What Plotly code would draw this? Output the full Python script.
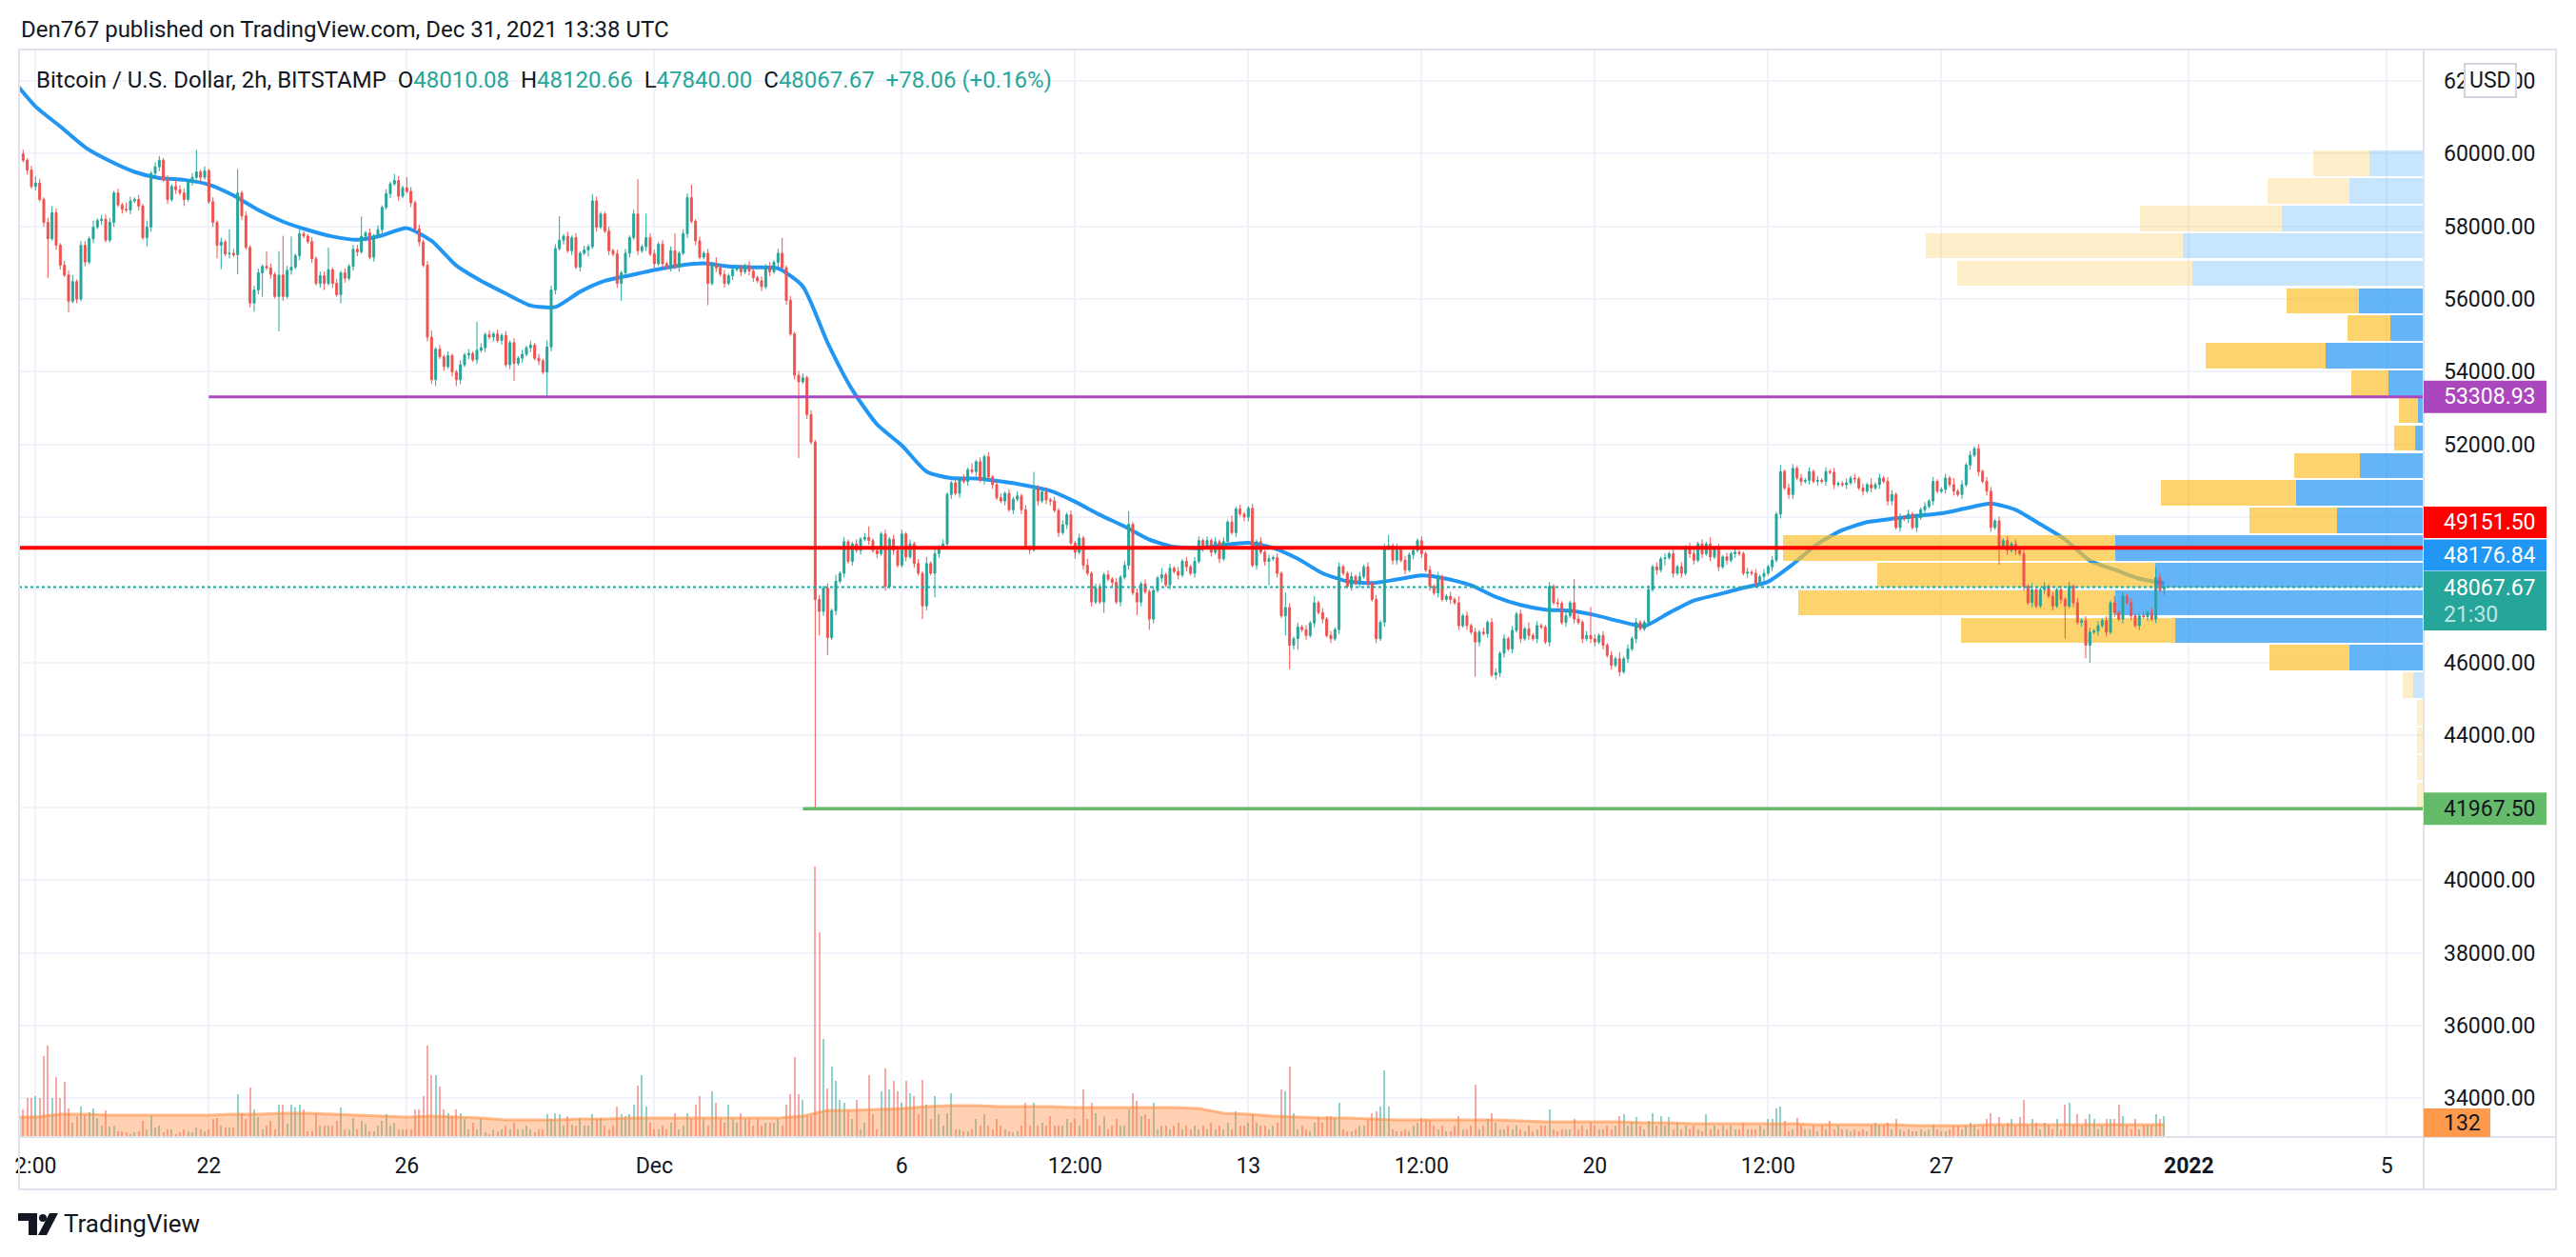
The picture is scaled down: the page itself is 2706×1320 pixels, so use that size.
import numpy as np
import pandas as pd
import plotly.graph_objects as go

# ---------------------------------------------------------------- data
FIRST_BAR = "2021-11-18 06:00"          # 2h bars
first_open = 59990.0
# closes per UTC day (2h bars)
closes = [
    [59820, 59550, 59100, 59190, 58740, 58110, 57660, 58380, 57480],                     # Nov 18
    [56930, 56660, 55940, 56480, 56000, 57480, 57020, 57660, 57980, 58160, 58200, 57620],
    [58110, 58920, 58590, 58470, 58450, 58700, 58740, 58560, 57690, 57980, 59460, 59640],
    [59820, 59280, 58740, 59100, 59010, 58920, 58740, 59240, 59350, 59500, 59350, 59530],
    [58680, 58110, 57480, 57570, 57240, 57260, 57220, 58920, 58290, 57420, 55890, 56250],
    [56720, 56900, 56860, 56680, 56070, 56660, 56070, 56790, 56880, 57190, 57800, 57730],
    [57580, 57110, 56430, 56640, 56430, 56810, 56430, 56120, 56720, 56570, 56900, 57370],
    [57300, 57730, 57820, 57150, 57730, 57910, 58520, 58900, 59170, 59260, 58830, 59060],
    [58960, 58650, 57930, 57570, 56930, 54950, 53780, 54620, 54410, 54140, 54440, 53990],
    [53780, 54190, 54460, 54500, 54330, 54590, 54660, 55020, 54950, 55040, 54860, 55000],
    [54190, 54800, 54230, 54370, 54480, 54660, 54730, 54370, 54300, 53990, 54680, 56250],
    [57390, 57620, 57730, 57330, 57690, 56880, 57260, 57350, 57440, 58700, 57980, 58340],
    [57870, 57330, 57240, 56430, 56720, 57260, 57690, 58340, 57330, 57440, 57690, 57240],
    [56970, 57510, 56970, 56880, 57330, 56880, 57260, 57800, 58790, 58140, 57600, 57150],  # Dec 1
    [57260, 56430, 56970, 56860, 56680, 56430, 56640, 56810, 56830, 56750, 56920, 56770],
    [56590, 56500, 56340, 56900, 56750, 57010, 57260, 56860, 55960, 55040, 53900, 53720],
    [53830, 52820, 52060, 47730, 47400, 48050, 46680, 47420, 48230, 48450, 49320, 48780],
    [49260, 49080, 49390, 49440, 49350, 49080, 48990, 49530, 48090, 49390, 49080, 48670],
    [49530, 48900, 49260, 48720, 48450, 47550, 48720, 48450, 48990, 49170, 49260, 50620],
    [50940, 50650, 51050, 50980, 51300, 51250, 51520, 51010, 51660, 51100, 50890, 50530],
    [50440, 50650, 50200, 50490, 50580, 50200, 49170, 49100, 50760, 50440, 50690, 50470],
    [50440, 50180, 49570, 49790, 50060, 49280, 49030, 49420, 48670, 48450, 47660, 48050],
    [47660, 48410, 48290, 48200, 47660, 48340, 48670, 49800, 47910, 47660, 48160, 47940],
    [47190, 47980, 48320, 48410, 48130, 48590, 48500, 48400, 48780, 48630, 48450, 48780],
    [49350, 49170, 49350, 49030, 49320, 48850, 49320, 49860, 49570, 50220, 50080, 50000],
    [50240, 48670, 49320, 49030, 48780, 48850, 48880, 48450, 47280, 47510, 46470, 46650],
    [46970, 46900, 46740, 47080, 47640, 47370, 47190, 46740, 46650, 46900, 48630, 48450],
    [48090, 48360, 48180, 48360, 48630, 48180, 47730, 46650, 47100, 49140, 49210, 48810],
    [49140, 48810, 48540, 48960, 49080, 49350, 48990, 48540, 48090, 47910, 48360, 47730],
    [47820, 47730, 47640, 47010, 47280, 47010, 46830, 46560, 46830, 46790, 47100, 45650],
    [45710, 46250, 46650, 46370, 46880, 47330, 46650, 46920, 46740, 46650, 47010, 46970],
    [46560, 48090, 47640, 47620, 47100, 47280, 47640, 47190, 47100, 46650, 46740, 46650],
    [46560, 46740, 46470, 46190, 45920, 46100, 45740, 46100, 46370, 46650, 47100, 46920],
    [47100, 48000, 48630, 48540, 48850, 48880, 48990, 48450, 48630, 48450, 49170, 48990],
    [48810, 49260, 48990, 49260, 48900, 49140, 48630, 48900, 48810, 48990, 49030, 48990],
    [48450, 48480, 48450, 48180, 48360, 48450, 48630, 48810, 50080, 51250, 50800, 50620],
    [51340, 51070, 50980, 51010, 51250, 50980, 51010, 50980, 51250, 51230, 50890, 50920],
    [50890, 50940, 51070, 51050, 50800, 50710, 50890, 50800, 50890, 51070, 50980, 50440],
    [50620, 49710, 49980, 49950, 50080, 49710, 49980, 50200, 50290, 50440, 50980, 50710],
    [50760, 51070, 50890, 50710, 50620, 50890, 51430, 51700, 51880, 51250, 50980, 50710],
    [49710, 49890, 49170, 49350, 49080, 49260, 49080, 48990, 48090, 47640, 48000, 47550],
    [48000, 48090, 47820, 47550, 48000, 47730, 47550, 48090, 47640, 47100, 47150, 46470],
    [46830, 46860, 47010, 47150, 46830, 47640, 47370, 47190, 47820, 47640, 47280, 47010],
    [47280, 47260, 47370, 47190, 48330, 47989.61, 48067.67],                               # Dec 31
]
# wick lengths per bar, base-36 digits in units of WICK_UNIT dollars
WICK_UNIT = 60.0
wick_up = [
    "212321232", "122312213122", "212132121312", "212132212a12", "12121b2b1212",
    "21721bi2e121", "12122a121212", "291212121321", "521212312121", "12121d212121",
    "212121212132", "2b1212121321", "12121212g1b2", "212128122612", "121312121212",
    "212121271212", "212121213121", "121251212121", "212121312121", "121213121212",
    "212121218212", "121212121312", "212121261212", "121312121212", "212121213121",
    "121212121721", "212131212121", "121212121251", "212121212121", "121312121212",
    "212121213121", "1212121b212d", "212121312121", "121212121212", "212131212121",
    "121212121312", "212121212121", "121212131212", "212121212121", "121312121212",
    "212121212131", "121212121212", "212121312121", "1212521",
]
wick_dn = [
    "121212i12", "215121212121", "121212121421", "212121312121", "126b12192124",
    "2b121g212121", "121231214212", "212121212121", "121212231212", "321212121212",
    "1281212121b2", "212121213121", "121281212121", "212121212121", "1a1212121212",
    "21212121212z", "1210b2812121", "212121212121", "12121621b212", "212121212121",
    "121212121212", "212121312121", "151212121621", "521212121212", "121212121212",
    "21212b1219b2", "512121212121", "121212121212", "212121212121", "1212121g2121",
    "222121212121", "121212121212", "212121212121", "121213121212", "212121212121",
    "121212121212", "212121212121", "121212121212", "212121212121", "121212121212",
    "218121212121", "121212f12126", "812121212121", "2121213",
]
crash_bar = "2021-12-04 06:00"
crash_low = 41967.50
last_ohlc = (48010.08, 48120.66, 47840.00, 48067.67)

# volume per bar (BTC)
volumes = [
    [175, 245, 245, 260, 245, 510, 575, 245, 380],
    [245, 350, 180, 90, 130, 190, 140, 155, 180, 120, 70, 170],
    [65, 70, 35, 35, 30, 20, 30, 35, 100, 50, 140, 60],
    [70, 30, 50, 50, 20, 30, 50, 35, 30, 60, 50, 35],
    [50, 115, 120, 70, 60, 60, 60, 270, 150, 115, 310, 175],
    [125, 50, 70, 100, 50, 205, 205, 85, 205, 185, 205, 175],
    [35, 35, 150, 70, 70, 70, 70, 100, 185, 50, 50, 120],
    [50, 100, 85, 35, 35, 70, 100, 145, 70, 90, 50, 50],
    [50, 50, 175, 175, 260, 575, 390, 390, 320, 175, 150, 130],
    [175, 150, 115, 50, 90, 50, 115, 30, 20, 50, 35, 50],
    [70, 50, 90, 50, 50, 70, 50, 30, 50, 50, 145, 115],
    [150, 145, 70, 130, 80, 70, 120, 70, 70, 145, 115, 120],
    [70, 50, 70, 190, 145, 130, 145, 205, 325, 390, 190, 90],
    [50, 50, 70, 50, 90, 150, 50, 70, 150, 115, 205, 260],
    [115, 70, 290, 215, 115, 90, 205, 115, 90, 150, 115, 115],
    [70, 115, 70, 90, 90, 90, 115, 70, 205, 270, 505, 270],
    [235, 130, 130, 1705, 1290, 620, 305, 445, 355, 235, 215, 160],
    [115, 235, 50, 90, 390, 145, 50, 290, 430, 300, 355, 290],
    [215, 355, 275, 260, 145, 360, 205, 115, 260, 145, 70, 150],
    [275, 50, 50, 35, 35, 50, 115, 70, 145, 70, 50, 115],
    [70, 50, 35, 30, 35, 70, 215, 70, 215, 70, 90, 70],
    [130, 70, 70, 70, 115, 90, 115, 70, 300, 115, 215, 150],
    [70, 130, 50, 70, 115, 70, 70, 175, 275, 230, 130, 145],
    [115, 215, 50, 70, 70, 50, 70, 90, 50, 70, 50, 70],
    [50, 70, 50, 90, 50, 70, 50, 90, 50, 160, 70, 70],
    [90, 145, 90, 70, 70, 50, 70, 90, 300, 290, 445, 150],
    [50, 70, 50, 35, 90, 125, 90, 130, 130, 120, 215, 50],
    [35, 35, 50, 70, 70, 115, 150, 160, 190, 420, 190, 50],
    [35, 35, 50, 35, 70, 90, 120, 115, 100, 70, 50, 70],
    [35, 35, 70, 130, 50, 50, 70, 330, 50, 70, 115, 150],
    [90, 50, 50, 70, 50, 70, 50, 35, 70, 35, 50, 70],
    [70, 175, 50, 35, 50, 50, 50, 115, 50, 70, 50, 90],
    [70, 50, 50, 70, 50, 70, 130, 145, 70, 90, 125, 70],
    [50, 100, 150, 70, 130, 70, 125, 50, 90, 50, 70, 50],
    [70, 50, 35, 145, 50, 70, 50, 70, 50, 70, 50, 50],
    [90, 50, 50, 50, 70, 50, 115, 115, 180, 190, 100, 35],
    [50, 120, 70, 50, 50, 70, 35, 70, 50, 100, 50, 70],
    [50, 50, 35, 50, 35, 50, 35, 70, 90, 70, 70, 90],
    [50, 115, 50, 35, 50, 35, 35, 50, 35, 50, 80, 50],
    [35, 35, 50, 70, 70, 50, 70, 90, 70, 50, 70, 115],
    [150, 70, 125, 70, 90, 115, 70, 125, 235, 70, 115, 90],
    [50, 90, 70, 50, 115, 50, 205, 215, 80, 145, 70, 115],
    [145, 115, 50, 70, 115, 115, 115, 205, 130, 70, 50, 115],
    [50, 70, 70, 70, 145, 115, 132],
]

# indicator values sampled every 12h from Nov 18 00:00
IND_START = "2021-11-18 00:00"
ma_values = [
    62100, 61300, 60750, 60180, 59800, 59500, 59330, 59280, 59150, 58850,
    58450, 58130, 57900, 57720, 57630, 57750, 57950, 57600, 56920, 56500,
    56150, 55820, 55780, 56200, 56500, 56650, 56800, 56920, 56980, 56900,
    56870, 56840, 56350, 54800, 53500, 52550, 51970, 51250, 51070, 51060,
    50980, 50870, 50720, 50420, 50060, 49740, 49380, 49180, 49140, 49230,
    49290, 49150, 48850, 48450, 48230, 48180, 48280, 48390, 48300, 48120,
    47800, 47580, 47450, 47420, 47300, 47130, 47000, 47360, 47700, 47870,
    48050, 48220, 48700, 49260, 49640, 49860, 49950, 50030, 50100, 50240,
    50370, 50200, 49800, 49380, 48800, 48550, 48300, 48176.84,
]
vol_ma_values = [
    126, 126, 144, 144, 138, 138, 138, 138, 138, 144, 144, 150, 150, 144, 138, 132,
    126, 132, 126, 120, 108, 108, 108, 114, 114, 120, 120, 120, 120, 120, 120, 120,
    132, 168, 168, 174, 180, 192, 198, 198, 192, 192, 192, 186, 186, 186, 186, 186,
    180, 150, 144, 132, 126, 120, 120, 114, 108, 108, 108, 108, 108, 102, 96, 96,
    96, 96, 90, 90, 84, 84, 84, 84, 84, 78, 78, 78, 78, 72, 72, 72,
    78, 78, 78, 78, 78, 78, 78, 78,
]

# horizontal levels
level_purple, purple_from = 53308.93, "2021-11-22 00:00"
level_red = 49151.50
level_green, green_from = 41967.50, "2021-12-04 00:00"
countdown = "21:30"

# visible-range volume profile, 24 rows from bottom to top
vp_up = [0, 0, 0, 0, 430, 3110, 10430, 12950, 11270, 12950, 3630, 5350,
         2670, 350, 230, 1470, 4110, 1390, 2710, 9710, 10110, 5950, 3110, 2270]
vp_down = [270, 270, 270, 270, 440, 3360, 9000, 13320, 11680, 13960, 3680, 5680,
           2760, 880, 800, 1560, 5040, 1800, 3040, 9880, 10800, 5960, 3440, 2360]
value_area_rows = (5, 18)

price_ticks = list(range(34000, 62001, 2000))
time_ticks = ["2021-11-18 12:00", "2021-11-22", "2021-11-26", "2021-12-01", "2021-12-06",
              "2021-12-09 12:00", "2021-12-13", "2021-12-16 12:00", "2021-12-20",
              "2021-12-23 12:00", "2021-12-27", "2022-01-01", "2022-01-05"]
time_labels = ["2:00", "22", "26", "Dec", "6", "12:00", "13", "12:00", "20", "12:00",
               "27", "<b>2022</b>", "5"]

# ---------------------------------------------------------------- derived series
FONT = "Roboto, 'Noto Sans', sans-serif"
INK = "#131722"
UP, DOWN = "#26a69a", "#ef5350"

n_bars = sum(len(d) for d in closes)
bar_times = pd.date_range(FIRST_BAR, periods=n_bars, freq="2h")
close = np.array([v for d in closes for v in d], float)
open_ = np.concatenate([[first_open], close[:-1]])
up_w = np.array([int(ch, 36) for ch in "".join(wick_up)], float) * WICK_UNIT
dn_w = np.array([int(ch, 36) for ch in "".join(wick_dn)], float) * WICK_UNIT
assert len(up_w) == n_bars and len(dn_w) == n_bars
high = np.maximum(open_, close) + up_w
low = np.minimum(open_, close) - dn_w
low[bar_times.get_loc(pd.Timestamp(crash_bar))] = crash_low
open_[-1], high[-1], low[-1], close[-1] = last_ohlc
vol = np.array([v for d in volumes for v in d], float)
assert len(vol) == n_bars
ind_times = pd.date_range(IND_START, periods=len(ma_values), freq="12h")

vp_lo, vp_hi = low.min(), high.max()
vp_step = (vp_hi - vp_lo) / len(vp_up)
vp_centers = vp_lo + (np.arange(len(vp_up)) + 0.5) * vp_step

# ---------------------------------------------------------------- geometry (pixels)
W, H = 2706, 1320
PL, PR, PT, PB = 20, 2546, 52, 1194
X0, X1 = "2021-11-18 04:00", "2022-01-05 17:51"
Y_RANGE = [32933, 62868]
VOL_RANGE = [0, 6852]
VP_RANGE = [101040, 0]


def px(X):
    return (X - PL) / (PR - PL)


def py(Y):
    return (PB - Y) / (PB - PT)


fig = go.Figure()

# moving average (under the profile)
fig.add_trace(go.Scatter(x=ind_times, y=ma_values, mode="lines",
                         line=dict(color="#2196f3", width=4, shape="spline", smoothing=0.6),
                         xaxis="x", yaxis="y", hoverinfo="skip"))
# volume bars + volume MA
vol_colors = np.where(close >= open_, "rgba(38,166,154,0.5)", "rgba(239,83,80,0.5)")
fig.add_trace(go.Bar(x=bar_times, y=vol, marker=dict(color=vol_colors, line=dict(width=0)),
                     width=2 * 3600 * 1000 * 0.4, xaxis="x", yaxis="y2", hoverinfo="skip"))
fig.add_trace(go.Scatter(x=ind_times, y=vol_ma_values, mode="lines", fill="tozeroy",
                         fillcolor="rgba(255,138,61,0.40)",
                         line=dict(color="rgba(255,138,61,0.55)", width=3),
                         xaxis="x", yaxis="y2", hoverinfo="skip"))
# volume profile
in_va = [(value_area_rows[0] <= k <= value_area_rows[1]) for k in range(len(vp_up))]
up_cols = ["rgba(33,150,243,0.70)" if v else "rgba(33,150,243,0.25)" for v in in_va]
dn_cols = ["rgba(251,192,45,0.70)" if v else "rgba(251,192,45,0.25)" for v in in_va]
fig.add_trace(go.Bar(y=vp_centers, x=vp_up, orientation="h", width=vp_step * 0.92,
                     marker=dict(color=up_cols, line=dict(width=0)),
                     xaxis="x2", yaxis="y", hoverinfo="skip"))
fig.add_trace(go.Bar(y=vp_centers, x=vp_down, orientation="h", width=vp_step * 0.92,
                     marker=dict(color=dn_cols, line=dict(width=0)),
                     xaxis="x2", yaxis="y", hoverinfo="skip"))
# candles
fig.add_trace(go.Candlestick(x=bar_times, open=open_, high=high, low=low, close=close,
                             increasing=dict(line=dict(color=UP, width=1), fillcolor=UP),
                             decreasing=dict(line=dict(color=DOWN, width=1), fillcolor=DOWN),
                             whiskerwidth=0, xaxis="x3", yaxis="y", hoverinfo="skip"))
# level lines
fig.add_trace(go.Scatter(x=[X0, X1], y=[last_ohlc[3]] * 2, mode="lines",
                         line=dict(color=UP, width=2, dash="dot"), xaxis="x3", yaxis="y"))
fig.add_trace(go.Scatter(x=[purple_from, X1], y=[level_purple] * 2, mode="lines",
                         line=dict(color="#ab47bc", width=3), xaxis="x3", yaxis="y"))
fig.add_trace(go.Scatter(x=[X0, X1], y=[level_red] * 2, mode="lines",
                         line=dict(color="#ff0000", width=4), xaxis="x3", yaxis="y"))
fig.add_trace(go.Scatter(x=[green_from, X1], y=[level_green] * 2, mode="lines",
                         line=dict(color="#66bb6a", width=3.5), xaxis="x3", yaxis="y"))

# ---------------------------------------------------------------- frame + labels
shapes = []
ann = []
frame = "#e0e3eb"
shapes += [
    dict(type="rect", xref="paper", yref="paper", x0=0, x1=px(2685), y0=py(1249), y1=1,
         line=dict(color=frame, width=2), layer="above"),
    dict(type="line", xref="paper", yref="paper", x0=1, x1=1, y0=py(1249), y1=1,
         line=dict(color=frame, width=2), layer="above"),
    dict(type="line", xref="paper", yref="paper", x0=0, x1=px(2685), y0=0, y1=0,
         line=dict(color=frame, width=2), layer="above"),
]

LX1 = px(2675)
TXT_X = px(2565)


def box(y0, y1, color, x1=LX1):
    shapes.append(dict(type="rect", xref="paper", yref="paper", x0=1, x1=x1, y0=y0, y1=y1,
                       fillcolor=color, line=dict(width=0), layer="above"))


def label(text, y, color="white", yref="paper", size=23):
    ann.append(dict(text=text, x=TXT_X, y=y, xref="paper", yref=yref, xanchor="left",
                    yanchor="middle", showarrow=False, font=dict(size=size, color=color, family=FONT)))


def level_box(level, color):
    shapes.append(dict(type="rect", xref="paper", yref="y", ysizemode="pixel", yanchor=level,
                       y0=-17, y1=17, x0=1, x1=LX1, fillcolor=color, line=dict(width=0),
                       layer="above"))


level_box(level_purple, "#ab47bc")
label(f"{level_purple:.2f}", level_purple, yref="y")
box(py(565), py(532), "#ff0000")
label(f"{level_red:.2f}", py(548.5))
box(py(599.5), py(566.5), "#2196f3")
label(f"{ma_values[-1]:.2f}", py(583))
box(py(662), py(600), UP)
label(f"{last_ohlc[3]:.2f}", py(617))
label(countdown, py(645), color="rgba(255,255,255,0.72)")
level_box(level_green, "#66bb6a")
label(f"{level_green:.2f}", level_green, color=INK, yref="y")
box(0, py(1164), "#ff9a4d", x1=px(2616))
label(f"{int(vol[-1])}", py(1179), color=INK)

# USD badge
shapes.append(dict(type="rect", xref="paper", yref="paper", x0=px(2589), x1=px(2643),
                   y0=py(102), y1=py(67), fillcolor="white",
                   line=dict(color="#d1d4dc", width=2), layer="above"))
ann.append(dict(text="USD", x=px(2616), y=py(84.5), xref="paper", yref="paper",
                xanchor="center", yanchor="middle", showarrow=False,
                font=dict(size=23, color=INK, family=FONT)))

# header + legend
ann.append(dict(text="Den767 published on TradingView.com, Dec 31, 2021 13:38 UTC",
                x=px(20), y=py(31), xref="paper", yref="paper", xanchor="left",
                yanchor="middle", showarrow=False, font=dict(size=24, color=INK, family=FONT)))
o, h_, l_, c_ = last_ohlc
chg = c_ - close[-2]
pct = chg / close[-2] * 100
sp = "\u00a0\u00a0"
g = lambda s: f"<span style='color:{UP}'>{s}</span>"
legend_txt = (f"Bitcoin / U.S. Dollar, 2h, BITSTAMP{sp}O{g(f'{o:.2f}')}{sp}H{g(f'{h_:.2f}')}"
              f"{sp}L{g(f'{l_:.2f}')}{sp}C{g(f'{c_:.2f}')}{sp}{g(f'{chg:+.2f} ({pct:+.2f}%)')}")
ann.append(dict(text=legend_txt, x=px(36), y=py(84), xref="paper", yref="paper",
                xanchor="left", yanchor="middle", showarrow=False,
                font=dict(size=24, color=INK, family=FONT)))

# footer logo
def P(X, Y):
    return f"{px(X):.5f},{py(Y):.5f}"


shapes += [
    dict(type="path", xref="paper", yref="paper",
         path=f"M{P(19,1274)} L{P(39,1274)} L{P(39,1297)} L{P(30,1297)} L{P(30,1282)} L{P(19,1282)} Z",
         fillcolor=INK, line=dict(width=0), layer="above"),
    dict(type="circle", xref="paper", yref="paper", x0=px(41), x1=px(49), y0=py(1283), y1=py(1275),
         fillcolor=INK, line=dict(width=0), layer="above"),
    dict(type="path", xref="paper", yref="paper",
         path=f"M{P(40,1297)} L{P(49,1297)} L{P(61,1274)} L{P(52,1274)} Z",
         fillcolor=INK, line=dict(width=0), layer="above"),
]
ann.append(dict(text="TradingView", x=px(65), y=py(1285), xref="paper", yref="paper",
                xanchor="left", yanchor="middle", showarrow=False,
                font=dict(size=26, color=INK, family=FONT)))

fig.update_layout(
    width=W, height=H,
    margin=dict(l=PL, r=W - PR, t=PT, b=H - PB, pad=0),
    paper_bgcolor="white", plot_bgcolor="white", showlegend=False,
    font=dict(family=FONT, color=INK, size=23),
    barmode="stack", boxgap=0.35,
    xaxis=dict(type="date", range=[X0, X1], tickvals=time_ticks, ticktext=time_labels,
               showgrid=True, gridcolor="#f0f3fa", gridwidth=2, zeroline=False,
               showline=False, ticks="", tickfont=dict(size=23, color=INK),
               ticklabelstandoff=14, rangeslider=dict(visible=False), fixedrange=True),
    yaxis=dict(range=Y_RANGE, side="right", tickvals=price_ticks, tickformat=".2f",
               showgrid=True, gridcolor="#f0f3fa", gridwidth=2, zeroline=False,
               showline=False, ticks="", ticklabelstandoff=20,
               tickfont=dict(size=23, color=INK)),
    yaxis2=dict(overlaying="y", anchor="x", range=VOL_RANGE, visible=False),
    xaxis2=dict(overlaying="x", anchor="y", range=VP_RANGE, visible=False),
    xaxis3=dict(overlaying="x", anchor="y", type="date", range=[X0, X1], visible=False,
                rangeslider=dict(visible=False)),
    shapes=shapes, annotations=ann,
)

fig.write_html("out.html", config={"displayModeBar": False},
               post_script="document.body.style.margin='0px';")
